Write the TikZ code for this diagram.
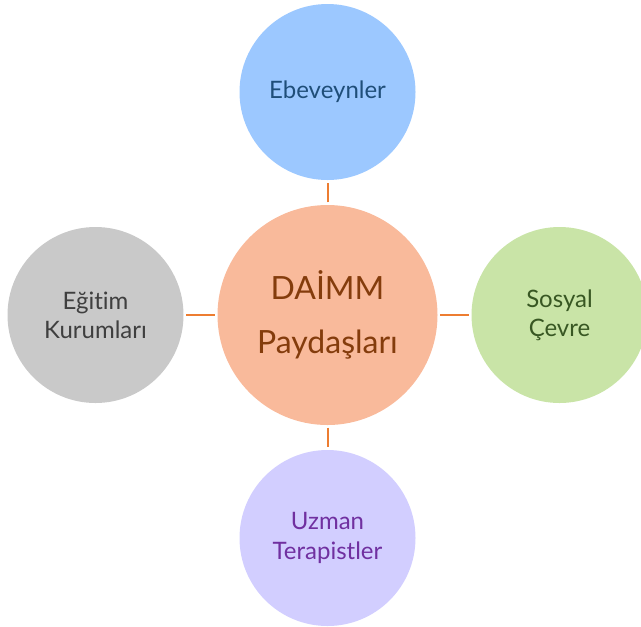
\documentclass[tikz,border=0pt]{standalone}
\usepackage{fontspec}
\setmainfont{Lato}[Ligatures=CommonOff]
\usetikzlibrary{positioning}
\definecolor{hubfill}{HTML}{F9BA9B}
\definecolor{hubtext}{HTML}{843C0C}
\definecolor{parentfill}{HTML}{9CC8FF}
\definecolor{parenttext}{HTML}{1F4E79}
\definecolor{schoolfill}{HTML}{C9C9C9}
\definecolor{schooltext}{HTML}{3F3F3F}
\definecolor{socialfill}{HTML}{C9E4A7}
\definecolor{socialtext}{HTML}{385723}
\definecolor{therapyfill}{HTML}{D2CEFF}
\definecolor{therapytext}{HTML}{7030A0}
\definecolor{linkorange}{HTML}{ED7D31}
\tikzset{
    hub/.style={circle, fill=hubfill, text=hubtext, minimum size=165pt,
                font=\fontsize{24}{40}\selectfont, align=center},
    party/.style={circle, minimum size=132pt,
                font=\fontsize{18}{22}\selectfont, align=center},
    link/.style={draw=linkorange, line width=1.5pt, shorten <=2pt, shorten >=2pt}
}

\begin{document}
\begin{tikzpicture}
  [
    x                       = 0.75pt,
    y                       = -0.75pt,
    every node/.style       = {inner sep=0pt, outer sep=0pt},
  ]
  \clip (0,0) rectangle (641,626);
  \node [hub] (hub) at (327.5,315) {DAİMM\\Paydaşları};
  \node [party, fill=parentfill, text=parenttext, above=18.75pt of hub] (parents) {Ebeveynler};
  \node [party, fill=therapyfill, text=therapytext, below=18.75pt of hub] (therapists) {Uzman\\Terapistler};
  \node [party, fill=schoolfill, text=schooltext, left=25.5pt of hub] (schools) {Eğitim\\Kurumları};
  \node [party, fill=socialfill, text=socialtext, right=25.5pt of hub] (social) {Sosyal\\Çevre};
  % spokes
  \draw [link] (hub) -- (parents);
  \draw [link] (hub) -- (therapists);
  \draw [link] (hub) -- (schools);
  \draw [link] (hub) -- (social);
\end{tikzpicture}
\end{document}
